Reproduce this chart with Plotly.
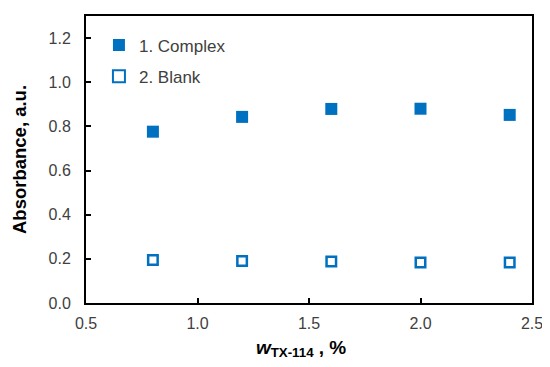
import plotly.graph_objects as go

x_vals = [0.8, 1.2, 1.6, 2.0, 2.4]
complex_vals = [0.776, 0.843, 0.879, 0.880, 0.852]
blank_vals = [0.195, 0.190, 0.188, 0.184, 0.184]
x_ticks = [0.5, 1.0, 1.5, 2.0, 2.5]
y_ticks = [0.0, 0.2, 0.4, 0.6, 0.8, 1.0, 1.2]

blue = "#0070C0"
FONT = "Arial, Liberation Sans, sans-serif"
fig = go.Figure()
fig.add_trace(go.Scatter(x=x_vals, y=complex_vals, mode="markers", name="1. Complex", legendgroup="a",
                         marker=dict(symbol="square", size=12, color=blue, line=dict(width=0))))
fig.add_trace(go.Scatter(x=x_vals, y=blank_vals, mode="markers", name="2. Blank", legendgroup="b",
                         marker=dict(symbol="square-open", size=9.5, color=blue, line=dict(width=2.5, color=blue))))

axis_common = dict(showline=True, linecolor="black", linewidth=2, mirror=True,
                   ticks="inside", ticklen=5, tickwidth=2, tickcolor="black",
                   showgrid=False, zeroline=False,
                   tickfont=dict(family=FONT, size=16, color="#404040"))
fig.update_xaxes(range=[0.5, 2.5], tickvals=x_ticks, ticktext=[f"{v:.1f}" for v in x_ticks],
                 ticklabelstandoff=5,
                 title=dict(text="<b><i>w</i><sub>TX-114</sub> , %</b>&#160;&#160;&#160;",
                            font=dict(family=FONT, size=19, color="black"), standoff=9),
                 **axis_common)
fig.update_yaxes(range=[0, 1.3], tickvals=y_ticks, ticktext=[f"{v:.1f}" for v in y_ticks],
                 ticklabelstandoff=10,
                 title=dict(text="<b>Absorbance, a.u.</b>",
                            font=dict(family=FONT, size=18.5, color="black"), standoff=17),
                 **axis_common)
fig.update_layout(width=542, height=359, margin=dict(l=78, r=18, t=6, b=64),
                  plot_bgcolor="white", paper_bgcolor="white",
                  legend=dict(x=0.029, y=0.96, xanchor="left", yanchor="top", bgcolor="rgba(0,0,0,0)",
                              font=dict(family=FONT, size=17, color="#404040"),
                              itemsizing="constant", tracegroupgap=6, traceorder="grouped", itemwidth=30))
fig.write_html("out.html")
